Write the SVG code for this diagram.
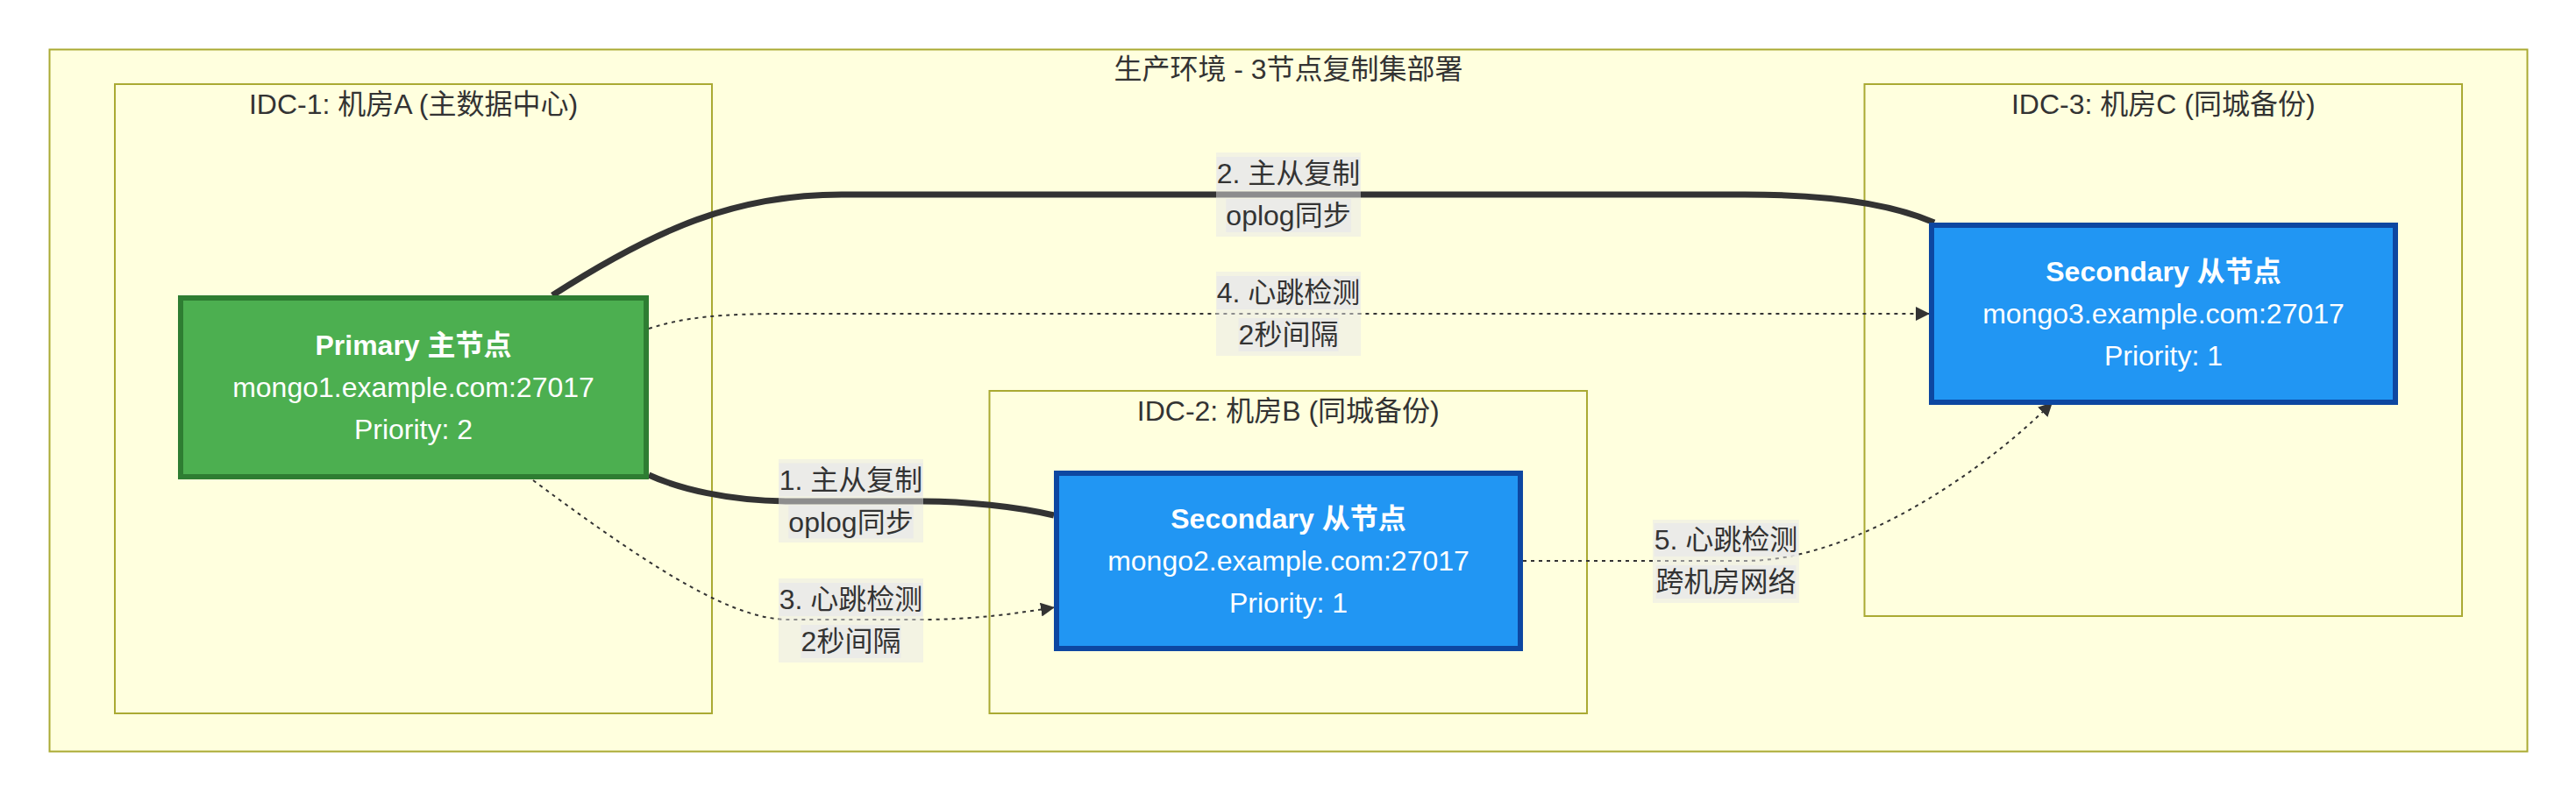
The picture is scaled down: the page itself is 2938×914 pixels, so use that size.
<svg xmlns="http://www.w3.org/2000/svg" width="2938" height="914" viewBox="0 0 2938 914">
<style>
text { font-family: "Liberation Sans", "Noto Sans CJK SC", sans-serif; font-size: 32px; text-anchor: middle; dominant-baseline: central; }
.cluster rect { fill: #ffffde; stroke: #aaaa33; stroke-width: 2; }
.cluster text { fill: #333333; }
.edge { fill: none; stroke: #333333; }
.thick { stroke-width: 7; }
.dotted { stroke-width: 2; stroke-dasharray: 4 5; }
.lbl-outer { fill: #e8e8e8; fill-opacity: 0.5; }
.lbl-inner { fill: #e8e8e8; fill-opacity: 0.8; }
.lbl text { fill: #333333; }
.primary rect { fill: #4CAF50; stroke: #2E7D32; stroke-width: 6; }
.secondary rect { fill: #2196F3; stroke: #0D47A1; stroke-width: 6; }
.node text { fill: #ffffff; }
.b { font-weight: bold; }
</style>
<defs>
<marker id="arrow" viewBox="0 0 10 10" refX="10" refY="5" markerWidth="16" markerHeight="16" markerUnits="userSpaceOnUse" orient="auto">
<path d="M0,0 L10,5 L0,10 z" fill="#333333"/>
</marker>
</defs>
<g id="cluster-prod" class="cluster">
<rect x="56.5" y="56.5" width="2826" height="801"/>
<text x="1469.5" y="79">生产环境 - 3节点复制集部署</text>
</g>
<g id="cluster-idc1" class="cluster">
<rect x="131" y="96" width="681" height="718"/>
<text x="471.5" y="119">IDC-1: 机房A (主数据中心)</text>
</g>
<g id="cluster-idc2" class="cluster">
<rect x="1128.5" y="446" width="681.5" height="368"/>
<text x="1469.25" y="469">IDC-2: 机房B (同城备份)</text>
</g>
<g id="cluster-idc3" class="cluster">
<rect x="2126.5" y="96" width="681.5" height="607"/>
<text x="2467.25" y="119">IDC-3: 机房C (同城备份)</text>
</g>
<g id="connectors">
<path id="e1" class="edge thick" d="M740,542 C775,558 830,571 896,572 L1053,572 C1100,572 1160,578 1202,588"/>
<path id="e2" class="edge thick" d="M630,337 C750,260 840,222 960,222 L1990,222 C2090,222 2160,234 2206,254"/>
<path id="e3" class="edge dotted" marker-end="url(#arrow)" d="M608,548 C758,660 840,707 900,707 L1053,707 C1110,707 1160,700 1203,693"/>
<path id="e4" class="edge dotted" marker-end="url(#arrow)" d="M740,375 C780,362 820,358 900,358 L2201,358"/>
<path id="e5" class="edge dotted" marker-end="url(#arrow)" d="M1737,640 L1990,640 C2110,640 2256,544 2341,459"/>
</g>
<g id="label-e1" class="lbl">
<rect class="lbl-outer" x="888" y="524" width="165" height="95"/>
<rect class="lbl-inner" x="888.7" y="528.5" width="163.6" height="38"/>
<rect class="lbl-inner" x="899.3" y="576.5" width="142.4" height="38"/>
<text x="970.5" y="547.5">1. 主从复制</text>
<text x="970.5" y="595.5">oplog同步</text>
</g>
<g id="label-e2" class="lbl">
<rect class="lbl-outer" x="1387" y="174" width="165" height="96"/>
<rect class="lbl-inner" x="1387.7" y="179" width="163.6" height="38"/>
<rect class="lbl-inner" x="1398.3" y="227" width="142.4" height="38"/>
<text x="1469.5" y="198">2. 主从复制</text>
<text x="1469.5" y="246">oplog同步</text>
</g>
<g id="label-e3" class="lbl">
<rect class="lbl-outer" x="888" y="660" width="165" height="96"/>
<rect class="lbl-inner" x="888.7" y="665" width="163.6" height="38"/>
<rect class="lbl-inner" x="913.6" y="713" width="113.8" height="38"/>
<text x="970.5" y="684">3. 心跳检测</text>
<text x="970.5" y="732">2秒间隔</text>
</g>
<g id="label-e4" class="lbl">
<rect class="lbl-outer" x="1387" y="310" width="165" height="96"/>
<rect class="lbl-inner" x="1387.7" y="315" width="163.6" height="38"/>
<rect class="lbl-inner" x="1412.6" y="363" width="113.8" height="38"/>
<text x="1469.5" y="334">4. 心跳检测</text>
<text x="1469.5" y="382">2秒间隔</text>
</g>
<g id="label-e5" class="lbl">
<rect class="lbl-outer" x="1885" y="593" width="167" height="95"/>
<rect class="lbl-inner" x="1886.7" y="597" width="163.6" height="38"/>
<rect class="lbl-inner" x="1888.5" y="645" width="160" height="38"/>
<text x="1968.5" y="616">5. 心跳检测</text>
<text x="1968.5" y="664">跨机房网络</text>
</g>
<g id="node-primary" class="node primary">
<rect x="206" y="340" width="531" height="204"/>
<text class="b" x="471.5" y="394">Primary 主节点</text>
<text x="471.5" y="442">mongo1.example.com:27017</text>
<text x="471.5" y="490">Priority: 2</text>
</g>
<g id="node-secondary2" class="node secondary">
<rect x="1205" y="540" width="529" height="200"/>
<text class="b" x="1469.5" y="592">Secondary 从节点</text>
<text x="1469.5" y="640">mongo2.example.com:27017</text>
<text x="1469.5" y="688">Priority: 1</text>
</g>
<g id="node-secondary3" class="node secondary">
<rect x="2203" y="257" width="529" height="202"/>
<text class="b" x="2467.5" y="310">Secondary 从节点</text>
<text x="2467.5" y="358">mongo3.example.com:27017</text>
<text x="2467.5" y="406">Priority: 1</text>
</g>
</svg>
